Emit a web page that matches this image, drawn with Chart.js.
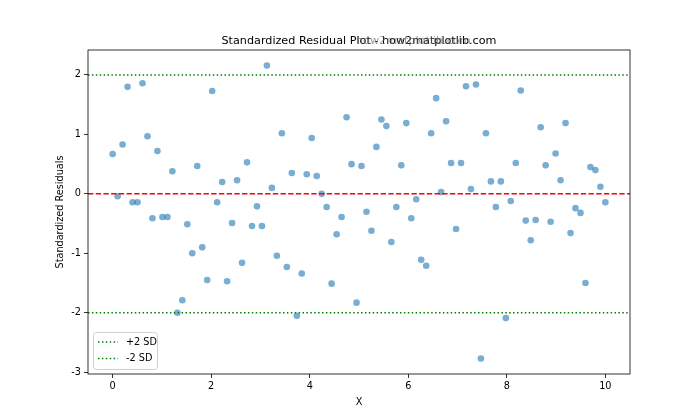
<!DOCTYPE html>
<html>
<head>
<meta charset="utf-8">
<title>Standardized Residual Plot</title>
<script src="https://cdn.jsdelivr.net/npm/chart.js@4.4.1/dist/chart.umd.min.js"></script>
<style>
  html, body { margin: 0; padding: 0; background: #fff; }
  #wrap { position: relative; width: 700px; height: 420px; }
</style>
</head>
<body>
<div id="wrap"><canvas id="chart" width="700" height="420"></canvas></div>
<script>
// ─── Data ───
const residuals = [
  0.67, -0.04, 0.83, 1.80, -0.14, -0.14, 1.86, 0.97, -0.41, 0.72,
  -0.39, -0.39, 0.38, -2.00, -1.79, -0.51, -1.00, 0.47, -0.90, -1.45,
  1.73, -0.14, 0.20, -1.47, -0.49, 0.23, -1.16, 0.53, -0.54, -0.21,
  -0.54, 2.16, 0.10, -1.04, 1.02, -1.23, 0.35, -2.05, -1.34, 0.33,
  0.94, 0.30, 0.00, -0.22, -1.51, -0.68, -0.39, 1.29, 0.50, -1.83,
  0.47, -0.30, -0.62, 0.79, 1.25, 1.14, -0.81, -0.22, 0.48, 1.19,
  -0.41, -0.09, -1.11, -1.21, 1.02, 1.61, 0.03, 1.22, 0.52, -0.59,
  0.52, 1.81, 0.08, 1.84, -2.77, 1.02, 0.21, -0.22, 0.21, -2.09,
  -0.12, 0.52, 1.74, -0.45, -0.78, -0.44, 1.12, 0.48, -0.47, 0.68,
  0.23, 1.19, -0.66, -0.24, -0.32, -1.50, 0.45, 0.40, 0.12, -0.14
];
// x = 100 evenly spaced samples from 0 to 10
const xValues = residuals.map((_, i) => i * 10 / 99);
const xTicks = [0, 2, 4, 6, 8, 10];
const yTicks = [-3, -2, -1, 0, 1, 2];
const sdLevels = [2, -2];
const xRange = [-0.5, 10.5];
const yRange = [-3.03, 2.42];

const FONT = 'DejaVu Sans, sans-serif';

// ─── Frame, title, axis labels, legend ───
const decor = {
  id: 'decor',
  afterDraw(chart) {
    const { ctx, chartArea: a } = chart;
    ctx.save();
    // axes frame
    ctx.strokeStyle = '#000';
    ctx.lineWidth = 0.8;
    ctx.strokeRect(a.left, a.top, a.right - a.left, a.bottom - a.top);

    const cx = (a.left + a.right) / 2;
    // title + overlapping watermark
    ctx.fillStyle = '#000';
    ctx.font = `11.2px ${FONT}`;
    ctx.textAlign = 'center';
    ctx.textBaseline = 'alphabetic';
    ctx.fillText('Standardized Residual Plot - how2matplotlib.com', cx, 44);
    ctx.fillStyle = 'rgba(110,110,110,0.7)';
    ctx.textAlign = 'left';
    ctx.fillText('how2matplotlib.com', 356, 44);

    // axis labels
    ctx.fillStyle = '#000';
    ctx.font = `9.7px ${FONT}`;
    ctx.textAlign = 'center';
    ctx.fillText('X', cx, 405);
    ctx.translate(63, (a.top + a.bottom) / 2);
    ctx.rotate(-Math.PI / 2);
    ctx.fillText('Standardized Residuals', 0, 0);
    ctx.restore();

    // legend (lower left)
    ctx.save();
    const lx = a.left + 5, ly = a.bottom - 42, lw = 64, lh = 37;
    ctx.fillStyle = 'rgba(255,255,255,0.8)';
    ctx.strokeStyle = '#d0d0d0';
    ctx.lineWidth = 1;
    ctx.beginPath();
    ctx.roundRect(lx + 0.5, ly + 0.5, lw, lh, 3);
    ctx.fill();
    ctx.stroke();
    ['+2 SD', '-2 SD'].forEach((label, i) => {
      const yy = ly + 10 + i * 16.5;
      ctx.strokeStyle = '#008000';
      ctx.lineWidth = 1.5;
      ctx.setLineDash([1.5, 2.4]);
      ctx.beginPath();
      ctx.moveTo(lx + 5, yy);
      ctx.lineTo(lx + 25, yy);
      ctx.stroke();
      ctx.setLineDash([]);
      ctx.fillStyle = '#000';
      ctx.font = `9.7px ${FONT}`;
      ctx.textAlign = 'left';
      ctx.textBaseline = 'middle';
      ctx.fillText(label, lx + 33, yy);
    });
    ctx.restore();
  }
};

const hline = (y, color, dash) => ({
  type: 'line',
  data: xRange.map(x => ({ x, y })),
  borderColor: color,
  borderWidth: 1.5,
  borderDash: dash,
  pointRadius: 0,
  fill: false,
  order: 0
});

new Chart(document.getElementById('chart'), {
  type: 'scatter',
  data: {
    datasets: [
      {
        data: xValues.map((x, i) => ({ x, y: residuals[i] })),
        backgroundColor: 'rgba(31,119,180,0.6)',
        borderWidth: 0,
        pointRadius: 3.3,
        order: 1
      },
      hline(0, '#ff0000', [5.4, 2.3]),
      hline(sdLevels[0], '#008000', [1.5, 2.4]),
      hline(sdLevels[1], '#008000', [1.5, 2.4])
    ]
  },
  options: {
    responsive: false,
    animation: false,
    layout: { padding: { top: 50, right: 70, left: 0, bottom: 0 } },
    plugins: { legend: { display: false }, tooltip: { enabled: false } },
    scales: {
      x: {
        type: 'linear',
        min: xRange[0], max: xRange[1],
        afterFit(s) { s.height = 46; },
        afterBuildTicks(s) { s.ticks = xTicks.map(v => ({ value: v })); },
        grid: { drawOnChartArea: false, color: '#000', tickLength: 4, tickWidth: 0.8 },
        border: { display: false },
        ticks: { color: '#000', font: { family: FONT, size: 9.7 }, padding: 3 }
      },
      y: {
        type: 'linear',
        min: yRange[0], max: yRange[1],
        afterFit(s) { s.width = 88; },
        afterBuildTicks(s) { s.ticks = yTicks.map(v => ({ value: v })); },
        grid: { drawOnChartArea: false, color: '#000', tickLength: 4, tickWidth: 0.8 },
        border: { display: false },
        ticks: { color: '#000', font: { family: FONT, size: 9.7 }, padding: 3 }
      }
    }
  },
  plugins: [decor]
});
</script>
</body>
</html>
